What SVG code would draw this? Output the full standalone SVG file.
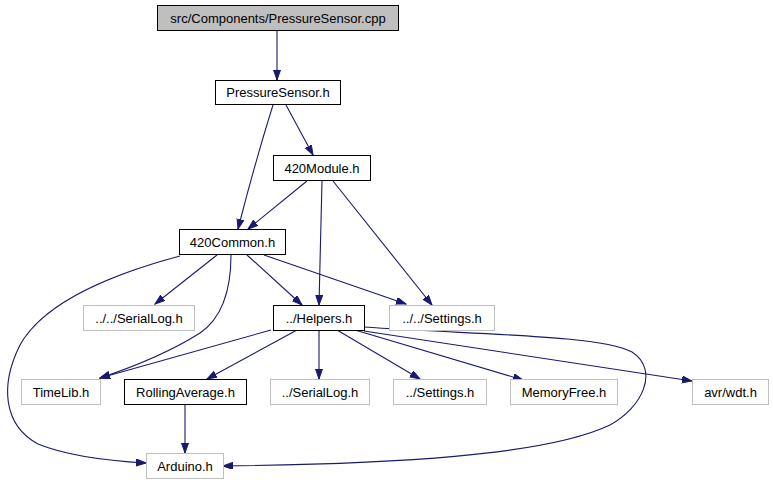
<svg xmlns="http://www.w3.org/2000/svg" width="773" height="485" viewBox="0 0 773 485">
<style>
.n rect{fill:#fff;stroke:#000;stroke-width:1}
.n.u rect{stroke:#bfbfbf}
.n.r rect{fill:#bfbfbf}
.n text{font-family:"Liberation Sans",Arial,sans-serif;font-size:13px;fill:#000;text-anchor:middle}
.e path{fill:none;stroke:#191970;stroke-width:1.1;marker-end:url(#ah)}
</style>
<defs>
<marker id="ah" markerUnits="userSpaceOnUse" markerWidth="11" markerHeight="8" refX="10" refY="3.5" orient="auto">
<path d="M0,0 L10,3.5 L0,7 z" fill="#191970" stroke="#191970" stroke-width="1"/>
</marker>
</defs>
<rect width="773" height="485" fill="#fff"/>
<g id="edges" class="e">
<path d="M277,31 L277,80"/>
<path d="M273,105 C262,140 248,190 238,229"/>
<path d="M286,105 L313,155"/>
<path d="M307,181 L248,229"/>
<path d="M322,181 C321,220 320,265 319,305"/>
<path d="M333,181 L432,305"/>
<path d="M217,255 L155,304"/>
<path d="M247,255 L302,305"/>
<path d="M264,255 L406,304"/>
<path d="M231,255 C231,290 222,318 200,333 C170,352 130,368 100,378"/>
<path d="M180,256 C120,272 45,300 20,345 C0,385 3,425 38,444 C70,457 110,461 146,463"/>
<path d="M271,330 L100,378"/>
<path d="M297,330 L207,379"/>
<path d="M319,330 L319,379"/>
<path d="M337,330 L420,379"/>
<path d="M355,330 L523,380"/>
<path d="M364,331 L692,381"/>
<path d="M364,327 C480,335 600,335 632,352 C660,370 642,408 610,425 C545,456 390,464 223,466"/>
<path d="M185,404 L185,453"/>
</g>
<g id="root" class="n r"><rect x="157.5" y="5.5" width="241" height="25"/><text x="278" y="22.5">src/Components/PressureSensor.cpp</text></g>
<g id="pressuresensor" class="n"><rect x="215.5" y="80.5" width="125" height="24"/><text x="278" y="97">PressureSensor.h</text></g>
<g id="module420" class="n"><rect x="273.5" y="155.5" width="97" height="25"/><text x="322" y="172.5">420Module.h</text></g>
<g id="common420" class="n"><rect x="179.5" y="229.5" width="106" height="25"/><text x="232.5" y="246.5">420Common.h</text></g>
<g id="serialLog2" class="n u"><rect x="83.5" y="305.5" width="111" height="25"/><text x="139" y="322.5">../../SerialLog.h</text></g>
<g id="helpers" class="n"><rect x="273.5" y="305.5" width="91" height="25"/><text x="319" y="322.5">../Helpers.h</text></g>
<g id="settings2" class="n u"><rect x="389.5" y="305.5" width="105" height="25"/><text x="442" y="322.5">../../Settings.h</text></g>
<g id="timelib" class="n u"><rect x="21.5" y="379.5" width="79" height="25"/><text x="61" y="396.5">TimeLib.h</text></g>
<g id="rollingaverage" class="n"><rect x="124.5" y="379.5" width="122" height="25"/><text x="185.5" y="396.5">RollingAverage.h</text></g>
<g id="serialLog1" class="n u"><rect x="270.5" y="379.5" width="99" height="25"/><text x="320" y="396.5">../SerialLog.h</text></g>
<g id="settings1" class="n u"><rect x="393.5" y="379.5" width="93" height="25"/><text x="440" y="396.5">../Settings.h</text></g>
<g id="memoryfree" class="n u"><rect x="510.5" y="379.5" width="107" height="25"/><text x="564" y="396.5">MemoryFree.h</text></g>
<g id="wdt" class="n u"><rect x="692.5" y="379.5" width="76" height="25"/><text x="730.5" y="396.5">avr/wdt.h</text></g>
<g id="arduino" class="n u"><rect x="146.5" y="453.5" width="77" height="25"/><text x="185" y="470.5">Arduino.h</text></g>
</svg>
